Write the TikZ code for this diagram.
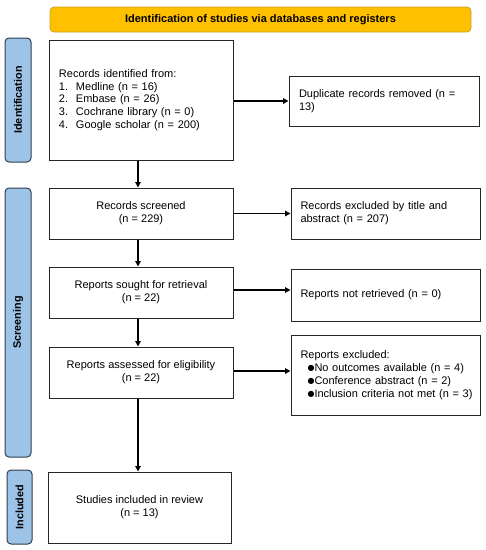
\documentclass[tikz,border=0pt]{standalone}
\usepackage{fontspec}
\setmainfont{Liberation Sans}
\newfontfamily\dejavu{DejaVu Sans}
\usetikzlibrary{arrows.meta}
\definecolor{bannerfill}{HTML}{FFC000}
\definecolor{bannerdraw}{HTML}{C9A227}
\definecolor{sidefill}{HTML}{9DC3E6}
\definecolor{sidedraw}{HTML}{2F3E4E}
\newcommand{\bul}{\makebox[7pt][l]{\raisebox{0.6pt}{\dejavu\fontsize{8}{8}\selectfont ●}}}
\newcommand{\itm}[1]{\makebox[17pt][l]{#1}}
\begin{document}
\begin{tikzpicture}[x=1pt,y=-1pt,
  every node/.style={font=\fontsize{11}{12.8}\selectfont},
  box/.style={draw=black!85, line width=1pt, inner sep=0pt, minimum width=184pt, align=center},
  rbox/.style={draw=black!85, line width=1pt, inner sep=0pt, minimum width=189pt, text width=170pt, align=left},
  side/.style={draw=sidedraw, fill=sidefill, line width=1pt, rounded corners=4pt, rotate=90, inner sep=0pt, minimum height=26pt, font=\fontsize{10.8}{12.8}\selectfont\bfseries},
  arr/.style={line width=1.3pt, -{Triangle[length=5.5pt,width=5.5pt]}}]
\useasboundingbox (0,0) rectangle (486,550);
% banner
\node[draw=bannerdraw, fill=bannerfill, line width=0.8pt, rounded corners=4pt, minimum width=421pt, minimum height=25pt, inner sep=0pt, font=\fontsize{11}{12.8}\selectfont\bfseries] (banner) at (260.5,19.5) {Identification of studies via databases and registers};
% side labels
\node[side, minimum width=124pt] (sideid) at (18,100) {Identification};
\node[side, minimum width=269pt] (sidesc) at (18,322.5) {Screening};
\node[side, minimum width=74pt, minimum height=25pt] (sidein) at (19.5,507) {Included};
% left column
\node[box, minimum height=120pt, text width=164pt, align=left] (b1) at (141,100) {Records identified from:\\
\itm{1.}Medline (n = 16)\\
\itm{2.}Embase (n = 26)\\
\itm{3.}Cochrane library (n = 0)\\
\itm{4.}Google scholar (n = 200)};
\node[box, minimum height=51pt] (b2) at (141,213.5) {Records screened\\(n = 229)};
\node[box, minimum height=51pt] (b3) at (141,292.5) {Reports sought for retrieval\\(n = 22)};
\node[box, minimum height=51pt] (b4) at (141,372.5) {Reports assessed for eligibility\\(n = 22)};
\node[box, minimum height=71pt, minimum width=183pt] (b5) at (139.5,507.5) {Studies included in review\\(n = 13)};
% right column
\node[rbox, minimum width=190pt, minimum height=50pt] (r1) at (384,101) {Duplicate records removed (n =\\13)};
\node[rbox, minimum height=51pt] (r2) at (385.5,213.5) {Records excluded by title and\\abstract (n = 207)};
\node[rbox, minimum height=52pt] (r3) at (385.5,295) {Reports not retrieved (n = 0)};
\node[rbox, minimum height=80pt] (r4) at (385.5,375) {Reports excluded:\\
\mbox{\hspace*{7pt}\bul No outcomes available (n = 4)}\\
\mbox{\hspace*{7pt}\bul Conference abstract (n = 2)}\\
\mbox{\hspace*{7pt}\bul Inclusion criteria not met (n = 3)}};
% arrows
\draw[arr] ([yshift=-1pt]b1.east) -- ([yshift=-1pt]b1.east -| r1.west);
\draw[arr] (b2.east) -- (b2.east -| r2.west);
\draw[arr] ([yshift=2.5pt]b3.east) -- ([yshift=2.5pt]b3.east -| r3.west);
\draw[arr] ([yshift=1.5pt]b4.east) -- ([yshift=1.5pt]b4.east -| r4.west);
\draw[arr] ([xshift=-3pt]b1.south) -- ([xshift=-3pt]b1.south |- b2.north);
\draw[arr] ([xshift=-3pt]b2.south) -- ([xshift=-3pt]b2.south |- b3.north);
\draw[arr] ([xshift=-3pt]b3.south) -- ([xshift=-3pt]b3.south |- b4.north);
\draw[arr] ([xshift=-3pt]b4.south) -- ([xshift=-3pt]b4.south |- b5.north);
\end{tikzpicture}
\end{document}
